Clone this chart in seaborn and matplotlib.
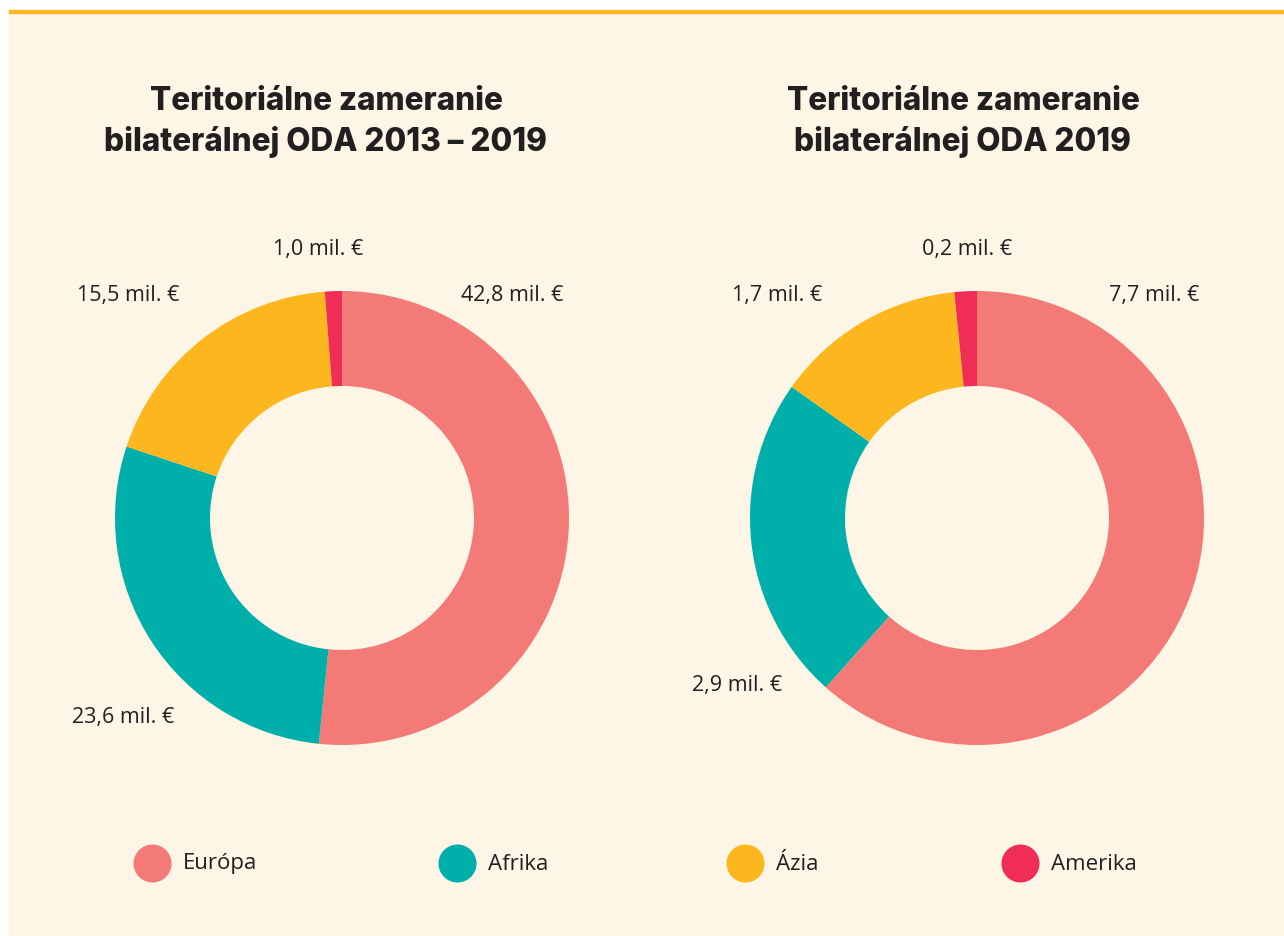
import numpy as np
import matplotlib.pyplot as plt
import seaborn as sns
from matplotlib.patches import Rectangle

# data
regions = ["Európa", "Afrika", "Ázia", "Amerika"]
oda_2013_2019 = [42.8, 23.6, 15.5, 1.0]
oda_2019 = [7.7, 2.9, 1.7, 0.2]
titles = ["Teritoriálne zameranie\nbilaterálnej ODA 2013 – 2019",
          "Teritoriálne zameranie\nbilaterálnej ODA 2019"]
colors = ["#F47A77", "#00AFA9", "#FDB71E", "#EF2D56"]

BG = "#FDF6E7"
TXT = "#231F20"

sns.set_theme(style="white")
plt.rcParams['font.family'] = ['Open Sans', 'DejaVu Sans']
palette = sns.color_palette(colors)

W, H = 1284, 936
fig = plt.figure(figsize=(W / 100, H / 100), dpi=100, facecolor="white")

# background layer in pixel coordinates
bg = fig.add_axes([0, 0, 1, 1])
bg.set_xlim(0, W)
bg.set_ylim(H, 0)
bg.axis("off")
bg.add_patch(Rectangle((9, 10), W - 9, H - 10, color=BG, zorder=0))
bg.add_patch(Rectangle((9, 9.5), W - 9, 3.5, color="#FDB827", zorder=1))

R_OUT, R_IN = 227, 132


def label(v):
    return f"{v:.1f}".replace(".", ",") + " mil. €"


def donut(cx, cy, values, title, title_x, label_pos):
    half = 300
    ax = fig.add_axes([(cx - half) / W, 1 - (cy + half) / H, 2 * half / W, 2 * half / H])
    ax.pie(values, colors=palette, startangle=90, counterclock=False, radius=1,
           wedgeprops=dict(width=1 - R_IN / R_OUT, linewidth=0))
    ax.set_xlim(-half / R_OUT, half / R_OUT)
    ax.set_ylim(-half / R_OUT, half / R_OUT)
    ax.set_aspect("equal")
    ax.axis("off")
    for v, (x, y) in zip(values, label_pos):
        ax.text(x, y, label(v), ha="center", va="center", fontsize=15.5, color=TXT)
    bg.text(title_x, 122, title, ha="center", va="center",
            fontsize=22.7, fontweight="heavy", color=TXT, linespacing=1.36,
            family=['Inter', 'DejaVu Sans'])


donut(342, 518, oda_2013_2019, titles[0], 326,
      [(0.749, 0.982), (-0.965, -0.881), (-0.943, 0.978), (-0.106, 1.181)])
donut(977, 518, oda_2019, titles[1], 963,
      [(0.780, 0.982), (-1.057, -0.740), (-0.881, 0.978), (-0.044, 1.181)])

# legend
leg_x = [152, 457, 745, 1020]
for name, c, x in zip(regions, palette, leg_x):
    bg.scatter([x], [863], s=750, color=c, linewidths=0, zorder=3)
    bg.text(x + 31, 864, name, ha="left", va="center", fontsize=16, color=TXT)

fig.savefig("out.png", dpi=100, facecolor="white")
